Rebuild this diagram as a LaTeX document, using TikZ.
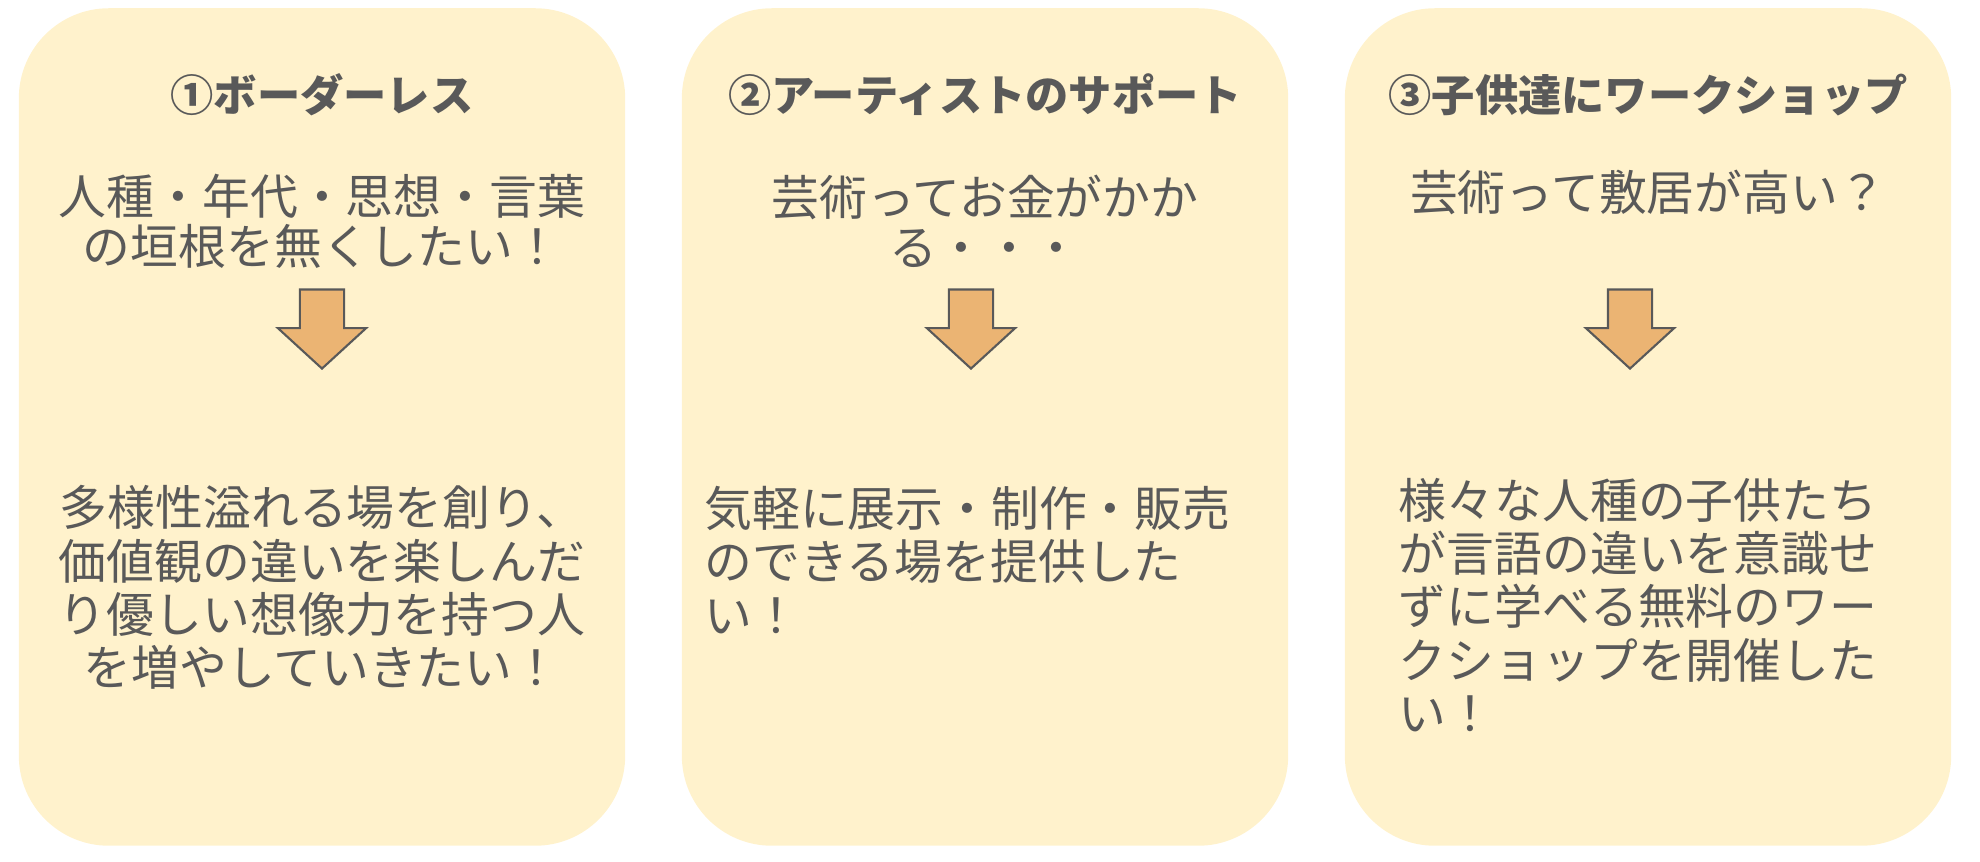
\documentclass[tikz,border=0pt]{standalone}
\usepackage{fontspec}
\setmainfont{Noto Sans CJK JP}
\usetikzlibrary{shapes,arrows,positioning}
\definecolor{cream}{HTML}{FFF2CC}
\definecolor{ink}{HTML}{595959}
\definecolor{sand}{HTML}{EBB473}
\tikzstyle{panel} = [rectangle, fill=cream, rounded corners=0.9cm, minimum width=6.06cm, minimum height=8.37cm, inner sep=0]
\tikzstyle{heading} = [text=ink, font=\fontsize{12.3}{14}\selectfont\bfseries, inner sep=0]
\tikzstyle{question} = [text=ink, font=\fontsize{13.6}{14.2}\selectfont, align=center, inner sep=0]
\tikzstyle{answer} = [text=ink, font=\fontsize{13.6}{15.2}\selectfont, inner sep=0]
\tikzstyle{down} = [single arrow, draw=ink, fill=sand, line width=0.6pt, shape border rotate=270, minimum height=0.79cm, inner xsep=0.21cm, inner ysep=0, single arrow head extend=0.22cm, single arrow tip angle=95]

\begin{document}
\begin{tikzpicture}[x=0.01cm, y=-0.01cm]
\useasboundingbox (0,0) rectangle (1980,862);

\node [panel] (borderless) at (322,427) {};
\node [panel] (support) at (985,427) {};
\node [panel] (workshop) at (1648,427) {};

\node [heading, above of=borderless, node distance=3.32cm] (borderless_t) {①ボーダーレス};
\node [heading, above of=support, node distance=3.32cm] (support_t) {②アーティストのサポート};
\node [heading, above of=workshop, node distance=3.32cm] (workshop_t) {③子供達にワークショップ};

\node [question, below of=borderless_t, node distance=1.26cm] (borderless_q) {人種・年代・思想・言葉\\の垣根を無くしたい！};
\node [question, below of=support_t, node distance=1.26cm] (support_q) {芸術ってお金がかか\\る・・・};
\node [question, below of=workshop_t, node distance=0.98cm] (workshop_q) {芸術って敷居が高い？};

\node [down, below of=borderless_t, node distance=2.24cm] (borderless_a) {};
\node [down, below of=support_t, node distance=2.24cm, xshift=-0.14cm] (support_a) {};
\node [down, below of=workshop_t, node distance=2.24cm, xshift=-0.18cm] (workshop_a) {};

\node [answer, align=center, below of=borderless_t, node distance=4.925cm] (borderless_w) {多様性溢れる場を創り、\\価値観の違いを楽しんだ\\り優しい想像力を持つ人\\を増やしていきたい！};
\node [answer, align=left, text width=5.61cm, below of=support_t, node distance=4.65cm] (support_w) {気軽に展示・制作・販売\\のできる場を提供した\\い！};
\node [answer, align=left, text width=4.98cm, below of=workshop_t, node distance=5.1cm] (workshop_w) {様々な人種の子供たち\\が言語の違いを意識せ\\ずに学べる無料のワー\\クショップを開催した\\い！};

\end{tikzpicture}
\end{document}
